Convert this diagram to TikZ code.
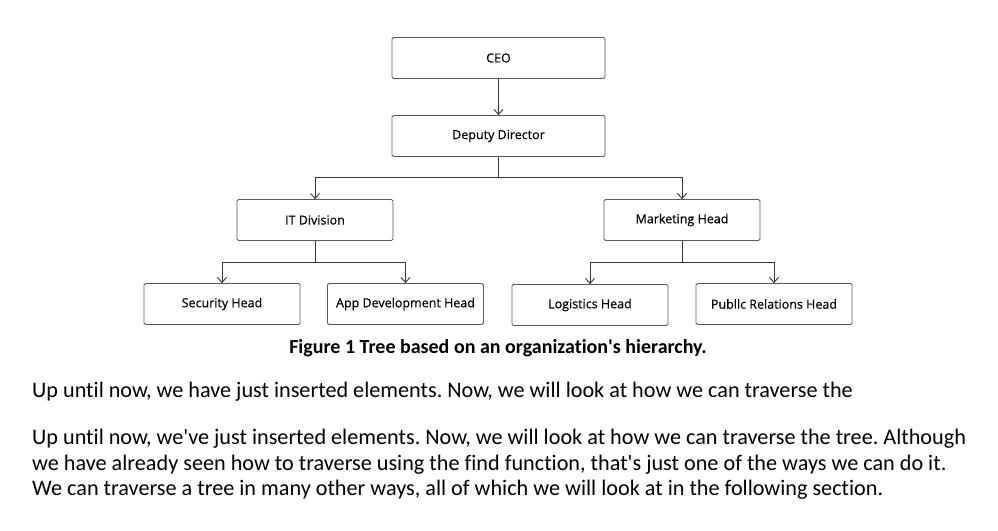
\documentclass[tikz,border=0pt]{standalone}
\usepackage{fontspec}
\setmainfont{Carlito}[Ligatures={NoCommon}]
\newfontfamily\boxfont{Open Sans}[FakeBold=0.4]
\usetikzlibrary{arrows.meta}
\frenchspacing

\begin{document}
\begin{tikzpicture}[x=1pt, y=-1pt,
	box/.style={draw=black!65, rounded corners=1.5pt, line width=0.8pt,
		minimum width=156pt, minimum height=41pt, inner sep=0pt,
		font=\boxfont\fontsize{12.5}{14}\selectfont},
	arr/.style={-{Straight Barb[length=5pt, width=9pt]}, line width=0.9pt, draw=black!80}]
	\useasboundingbox[fill=white] (0,0) rectangle (998,530);
	
	% --- Hai tầng trên ---
	\node[box, minimum width=213pt] (ceo) at (498.5,58) {CEO};
	\node[box, minimum width=213pt] (dep) at (498.5,136) {Deputy Director};
	
	% --- Tầng giữa ---
	\node[box] (it)  at (315,220) {IT Division};
	\node[box] (mkt) at (682,220) {Marketing Head};
	
	% --- Tầng dưới ---
	\node[box] (sec) at (222,304) {Security Head};
	\node[box] (app) at (405.5,304) {App Development Head};
	\node[box] (log) at (590,305) {Logistics Head};
	\node[box] (pr)  at (774,304) {Publlc Relations Head};
	
	% --- Mũi tên ---
	\draw[arr] (ceo.south) -- (dep.north);
	\foreach \c in {it, mkt} {
		\draw[arr] (dep.south) -- ++(0,21) -| (\c.north);
	}
	\foreach \c in {sec, app} {
		\draw[arr] (it.south) -- ++(0,22) -| (\c.north);
	}
	\foreach \c in {log, pr} {
		\draw[arr] (mkt.south) -- ++(0,22) -| (\c.north);
	}
	
	% --- Chú thích và đoạn văn ---
	\node[anchor=base, font=\bfseries\fontsize{20}{22}\selectfont] (cap) at (498,353)
		{Figure 1 Tree based on an organization\textquotesingle s hierarchy.};
	\node[anchor=base west, inner sep=0pt, font=\fontsize{22.2}{25.5}\selectfont] (p1) at (32,397)
		{Up until now, we have just inserted elements. Now, we will look at how we can traverse the};
	\node[anchor=north west, inner sep=0pt, align=left, font=\fontsize{22.2}{25.5}\selectfont] (p2) at (32,429)
		{Up until now, we\textquotesingle ve just inserted elements. Now, we will look at how we can traverse the tree. Although\\
		we have already seen how to traverse using the find function, that\textquotesingle s just one of the ways we can do it.\\
		We can traverse a tree in many other ways, all of which we will look at in the following section.};
\end{tikzpicture}
\end{document}
